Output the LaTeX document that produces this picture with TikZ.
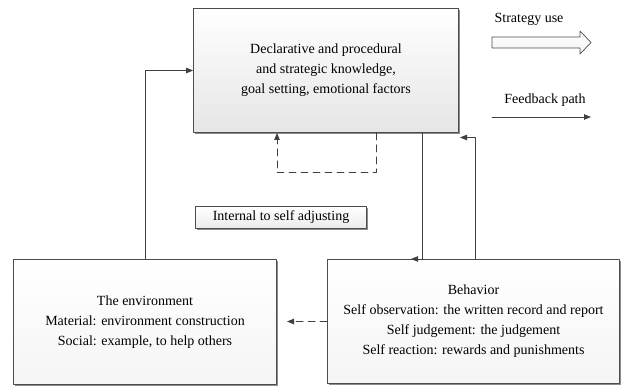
\documentclass[tikz,border=0pt]{standalone}
\usepackage{fontspec}
\setmainfont{Liberation Serif}
\usetikzlibrary{arrows.meta,shadows}

\begin{document}
\begin{tikzpicture}[line cap=round,line join=round,>={Triangle[length=7pt,width=5.5pt]},x=1pt,y=-1pt,
  font=\fontsize{14}{20}\selectfont,
  box/.style={draw=black!70,line width=0.8pt,align=center,inner sep=0pt,
    top color=white,bottom color=black!4,
    drop shadow={shadow xshift=1.2pt,shadow yshift=-1.2pt,fill=black!45,opacity=1}},
  link/.style={draw=black!75,line width=0.8pt},
  dashlink/.style={link,dash pattern=on 7pt off 5pt}]
\useasboundingbox (0,0) rectangle (624,387);
\node[box,bottom color=black!10,minimum width=265,minimum height=124] (know) at (326,70.5)
  {Declarative and procedural\\and strategic knowledge,\\goal setting, emotional factors};
\node[box,minimum width=263,minimum height=125] (env) at (145,322)
  {The environment\\Material: environment construction\\Social: example, to help others};
\node[box,minimum width=292,minimum height=124] (beh) at (473.5,321.5)
  {Behavior\\Self observation: the written record and report\\Self judgement: the judgement\\Self reaction: rewards and punishments};
\node[box,bottom color=black!8,minimum width=171,minimum height=22] (intern) at (281,217.5)
  {Internal to self adjusting};
\coordinate (fbtip) at (411,259);
\coordinate (uptip) at (460,137.5);
\coordinate (envtip) at (287,321.5);
\draw[link,->] (env.north) |- (know.west);
\draw[link,->] (know.south -| 422,0) |- (fbtip);
\draw[link,->] (beh.north -| 475,0) |- (uptip);
\draw[dashlink,->] (know.south -| 376,0) -- ++(0,40) -| (know.south -| 277,0);
\draw[dashlink,->] (beh.west) -- (envtip);
\node (stratlbl) at (529,19) {Strategy use};
\draw[draw=black!70,line width=0.7pt,top color=white,bottom color=black!5]
  (492,37) -- (580,37) -- (580,31) -- (591,42.5) -- (580,54) -- (580,48) -- (492,48) -- cycle;
\node (fblbl) at (545,100) {Feedback path};
\coordinate (fbstart) at (492,117);
\coordinate (fbend) at (591,117);
\draw[link,->] (fbstart) -- (fbend);
\end{tikzpicture}
\end{document}
